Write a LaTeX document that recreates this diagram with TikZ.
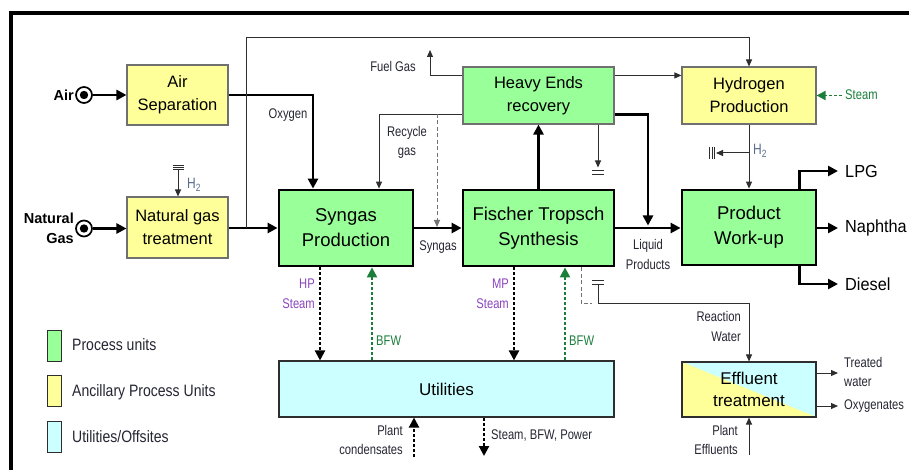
\documentclass[tikz,border=0pt]{standalone}
\usepackage{fontspec}
\setmainfont{Liberation Sans}
\newfontfamily\nar[FakeStretch=0.8]{Liberation Sans}
\newfontfamily\legf[FakeStretch=0.85]{Liberation Sans}
\newfontfamily\midf[FakeStretch=0.93]{Liberation Sans}
\usetikzlibrary{arrows.meta,calc}
\definecolor{pgreen}{HTML}{99FF99}
\definecolor{pyellow}{HTML}{FFFF99}
\definecolor{pcyan}{HTML}{CCFFFF}
\definecolor{lblc}{HTML}{262633}
\definecolor{purp}{HTML}{8A45C0}
\definecolor{dgreen}{HTML}{1B7F3B}
\definecolor{thinc}{HTML}{2E2E2E}
\definecolor{bordc}{HTML}{707070}
\definecolor{hc}{HTML}{5C6C8C}
\begin{document}
\begin{tikzpicture}[x=1pt,y=-1pt,
  unitbox/.style={rectangle, align=center, inner sep=0pt, text=black},
  procbig/.style={unitbox, fill=pgreen, draw=black, line width=2.8pt, font=\fontsize{18.5}{25}\selectfont},
  procsmall/.style={unitbox, fill=pgreen, draw=bordc, line width=1.1pt, font=\fontsize{16.5}{23}\selectfont},
  ancbox/.style={unitbox, fill=pyellow, draw=bordc, line width=1.1pt, font=\fontsize{16.5}{23}\selectfont},
  utilbox/.style={unitbox, fill=pcyan, draw=thinc, line width=1.1pt, font=\fontsize{17}{22}\selectfont},
  legsq/.style={rectangle, draw=thinc, line width=1pt, minimum width=14pt, minimum height=31pt, inner sep=0pt},
  legtext/.style={anchor=west, inner sep=0pt, text=lblc, font=\legf\fontsize{16.5}{20}\selectfont},
  lbl/.style={inner sep=0pt, text=lblc, font=\nar\fontsize{14}{19.5}\selectfont},
  outl/.style={inner sep=0pt, anchor=west, text=black, font=\midf\fontsize{17.5}{20}\selectfont},
  srcin/.style={circle, draw=black, line width=1.7pt, minimum size=16pt, inner sep=0pt, fill=white,
     path picture={\fill[black] (path picture bounding box.center) circle (4.2pt);}},
  thk/.style={draw=black, line width=2.8pt, -{Triangle[length=10pt,width=10pt]}},
  thn/.style={draw=thinc, line width=1pt, -{Triangle[length=7pt,width=6pt]}},
  thnline/.style={draw=thinc, line width=1pt},
  kdash/.style={draw=black, line width=2.2pt, dash pattern=on 3pt off 2pt, -{Triangle[length=10pt,width=10pt]}},
  gdash/.style={draw=dgreen, line width=2.2pt, dash pattern=on 3pt off 2pt, -{Triangle[length=10pt,width=10pt]}},
  graydash/.style={draw=gray!90!black, line width=1pt, dash pattern=on 4pt off 2.5pt},
]
\useasboundingbox (0,0) rectangle (909,470);
\fill[white] (0,0) rectangle (909,470);
% frame
\draw[line width=4pt] (11,480) -- (11,13.5) -- (920,13.5);

% boxes
\node[ancbox, minimum width=101pt, minimum height=60pt] (airsep) at (177.5,95) {Air\\Separation};
\node[ancbox, minimum width=101pt, minimum height=61pt] (ngt) at (177.5,227.5) {Natural gas\\treatment};
\node[procbig, minimum width=134pt, minimum height=76pt] (syn) at (346,228) {Syngas\\Production};
\node[procbig, minimum width=151pt, minimum height=76pt] (ft) at (538.5,228) {Fischer Tropsch\\Synthesis};
\node[procsmall, minimum width=151pt, minimum height=57pt] (her) at (538.5,95.5) {Heavy Ends\\recovery};
\node[ancbox, minimum width=134pt, minimum height=57pt] (hyd) at (749,95.5) {Hydrogen\\Production};
\node[procbig, minimum width=134pt, minimum height=75pt] (pw) at (749,227.5) {Product\\Work-up};
\node[utilbox, minimum width=335pt, minimum height=56pt] (util) at (446.5,389) {Utilities};
\node[utilbox, fill=pcyan, minimum width=134pt, minimum height=55pt,
  path picture={\fill[pyellow] (path picture bounding box.north west) -- (path picture bounding box.south east) -- (path picture bounding box.south west) -- cycle;}]
  (eff) at (749,389.5) {Effluent\\treatment};

% inputs
\node[srcin] (airin) at (84,95) {};
\node[srcin] (ngin) at (84,228.5) {};
\node[anchor=east, inner sep=0pt, font=\bfseries\fontsize{14.5}{20}\selectfont] (airl) at (74,95) {Air};
\node[anchor=east, inner sep=0pt, align=right, font=\bfseries\fontsize{14.5}{20}\selectfont] (ngl) at (74,228) {Natural\\Gas};
\draw[thk] (airin) -- (airsep.west);
\draw[thk] (ngin) -- (ngin -| ngt.west);

% main flows
\draw[thk] (airsep.east) -| ([xshift=-33pt]syn.north);
\node[lbl] (oxl) at (288,115) {Oxygen};
\draw[thk] (ngt.east |- syn.west) -- (syn.west);
\coordinate (tap) at (246,228);
\draw[thn] (tap) |- ([yshift=29pt]hyd.north) -- (hyd.north);
\draw[thk] (syn.east) -- (ft.west);
\node[lbl] (synl) at (438,247) {Syngas};
\draw[thk] (ft.north) -- (her.south);
\draw[thk] (ft.east) -- (ft.east -| pw.west);
\draw[thk] ([yshift=10pt]her.south east) -| (648,225.5);
\node[lbl, align=center] (liql) at (648,254.5) {Liquid\\Products};

% recycle / fuel gas
\draw[thn] ([yshift=10pt]her.south west) -| ([xshift=33pt]syn.north);
\node[lbl, align=center] (recl) at (407,142.5) {Recycle\\gas};
\coordinate (rj) at (437,114);
\coordinate (sj) at (437,227);
\draw[graydash, -{Triangle[length=7pt,width=6pt]}] (rj) -- (sj);
\coordinate (fg) at (430,50);
\draw[thn] ([yshift=-9pt]her.north west) -| (fg);
\node[lbl] (fgl) at (393,66) {Fuel Gas};
\draw[thn] ([yshift=-9pt]her.north east) -- ([yshift=-9pt]hyd.north west);

% heavy ends drain
\coordinate (g1) at (598,167.5);
\draw[thn] ([xshift=59.5pt]her.south) -- (g1);
\draw[thnline] (592,171) -- (604,171) (592,174.5) -- (604,174.5);

% hydrogen
\draw[thn] (hyd.south) -- (pw.north);
\coordinate (hb) at (749,153);
\coordinate (hbt) at (716,153);
\draw[thn] (hb) -- (hbt);
\draw[thnline] (709.5,147) -- (709.5,159) (712,147) -- (712,159) (714.5,147) -- (714.5,159);
\node[anchor=west, inner sep=0pt, text=hc, font=\nar\fontsize{15}{18}\selectfont] (h2b) at (753,151) {H\textsubscript{2}};
\coordinate (stm) at (842,95.5);
\draw[gdash, line width=1.8pt, -{Triangle[length=9pt,width=9pt]}] (stm) -- (hyd.east);
\node[lbl, anchor=west, text=dgreen] (stml) at (845,95) {Steam};

% H2 to natural gas treatment
\coordinate (h2a) at (178,170);
\draw[thn] (h2a) -- (h2a |- ngt.north);
\draw[thnline] (173,166) -- (184,166) (173,168) -- (184,168) (173,170) -- (184,170);
\node[anchor=west, inner sep=0pt, text=hc, font=\nar\fontsize{15}{18}\selectfont] (h2al) at (187,185) {H\textsubscript{2}};

% products
\coordinate (lpg) at (838,171);
\coordinate (nap) at (838,228);
\coordinate (die) at (838,284);
\draw[thk] ([xshift=50.5pt]pw.north) |- (lpg);
\draw[thk] (pw.east |- nap) -- (nap);
\draw[thk] ([xshift=50.5pt]pw.south) |- (die);
\node[outl] (lpgl) at (845,171) {LPG};
\node[outl] (napl) at (845,228) {Naphtha};
\node[outl] (diel) at (845,284) {Diesel};

% steam / bfw
\draw[kdash] ([xshift=-26pt]syn.south) -- ([xshift=-26pt]syn.south |- util.north);
\draw[gdash] ([xshift=26pt]syn.south |- util.north) -- ([xshift=26pt]syn.south);
\draw[kdash] ([xshift=-24.5pt]ft.south) -- ([xshift=-24.5pt]ft.south |- util.north);
\draw[gdash] ([xshift=26.5pt]ft.south |- util.north) -- ([xshift=26.5pt]ft.south);
\node[lbl, anchor=east, align=right, text=purp] (hpl) at (315,294) {HP\\Steam};
\node[lbl, anchor=east, align=right, text=purp] (mpl) at (509,294) {MP\\Steam};
\node[lbl, anchor=west, text=dgreen] (bfw1) at (376,341) {BFW};
\node[lbl, anchor=west, text=dgreen] (bfw2) at (569,341) {BFW};

% reaction water
\coordinate (rw0) at (592,303.5);
\coordinate (rw1) at (598,303.5);
\draw[graydash] ([xshift=42.5pt]ft.south) |- (rw0);
\draw[thn] (rw1) -| (eff.north);
\draw[thnline] (598,303.5) -- (598,284) (592,284) -- (604,284) (592,280.5) -- (604,280.5);
\node[lbl, anchor=east, align=right] (rwl) at (741,326.5) {Reaction\\Water};

% effluent
\coordinate (tw) at (838,373);
\coordinate (ox) at (838,406);
\draw[thn] (eff.east |- tw) -- (tw);
\draw[thn] (eff.east |- ox) -- (ox);
\node[lbl, anchor=west, align=left] (twl) at (844,372) {Treated\\water};
\node[lbl, anchor=west] (oxl2) at (844,406) {Oxygenates};
\coordinate (pe) at (749,455);
\draw[thn] (pe) -- (eff.south);
\node[lbl, anchor=east, align=right] (pel) at (738,440) {Plant\\Effluents};

% utilities in/out
\coordinate (pc) at (414,457);
\draw[kdash] (pc) -- (pc |- util.south);
\node[lbl, anchor=east, align=right] (pcl) at (403,440) {Plant\\condensates};
\coordinate (sbp) at (484,456);
\draw[kdash] (sbp |- util.south) -- (sbp);
\node[lbl, anchor=west] (sbpl) at (491,436) {Steam, BFW, Power};

% legend
\node[legsq, fill=pgreen] (lg1) at (54,346) {};
\node[legsq, fill=pyellow] (lg2) at (54,391) {};
\node[legsq, fill=pcyan] (lg3) at (54,437) {};
\node[legtext] (lt1) at (72,345) {Process units};
\node[legtext] (lt2) at (72,392) {Ancillary Process Units};
\node[legtext] (lt3) at (72,437) {Utilities/Offsites};
\end{tikzpicture}
\end{document}
